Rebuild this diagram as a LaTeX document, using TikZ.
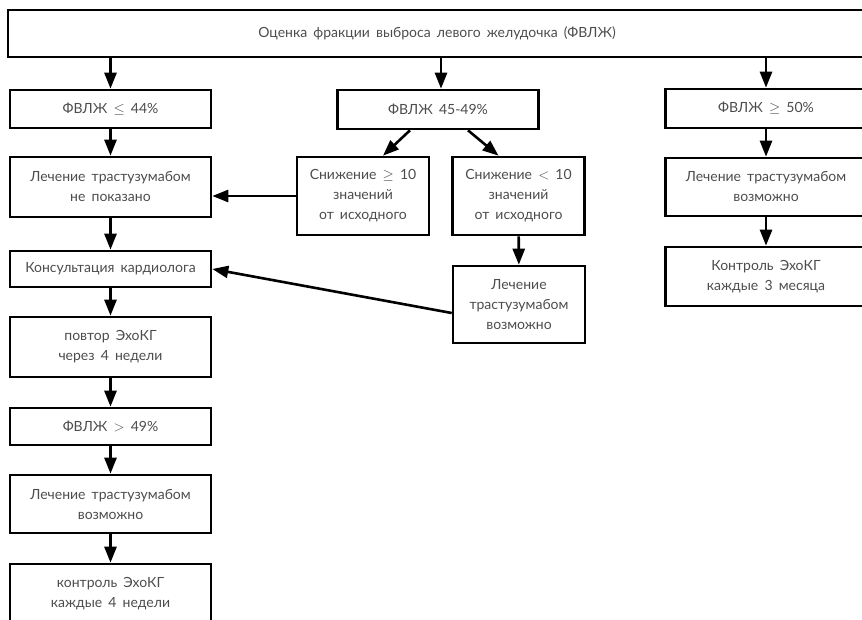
\documentclass[tikz,border=0pt]{standalone}
\usepackage{fontspec}
\setmainfont{Lato}
\usetikzlibrary{arrows.meta}
\newcommand\boxfont{\fontsize{14}{20}\selectfont\spaceskip=0.44em plus 0.1em\relax}
\begin{document}
\begin{tikzpicture}[
      x=1pt,y=-1pt,
      font=\boxfont,
      box/.style={draw=black,line width=2.6pt,align=center,text=black!70,inner sep=0pt},
      wide/.style={box,minimum width=201pt},
      narrow/.style={box,minimum width=132pt},
      flow/.style={line width=2.6pt,draw=black,-{Triangle[length=16pt,width=12pt]}},
      ]
      \useasboundingbox (0,0) rectangle (862,620);
      \node[box,minimum width=858pt,minimum height=47pt] (fvlzh) at (437,33.5)
        {Оценка фракции выброса левого желудочка (ФВЛЖ)};
      \node[wide,minimum height=38pt] (low) at (110.5,109) {ФВЛЖ $\leq$ 44\%};
      \node[wide,minimum height=39pt] (mid) at (438,109.5) {ФВЛЖ 45-49\%};
      \node[wide,minimum height=39pt] (high) at (766,108.5) {ФВЛЖ $\geq$ 50\%};
      \node[wide,minimum height=60pt] (nepok) at (110.5,187) {Лечение трастузумабом\\не показано};
      \node[narrow,minimum height=78pt] (drop) at (363,196) {Снижение $\geq$ 10\\значений\\от исходного};
      \node[narrow,minimum height=78pt] (nodrop) at (518.5,196) {Снижение $<$ 10\\значений\\от исходного};
      \node[wide,minimum height=58pt] (vozmr) at (766,187) {Лечение трастузумабом\\возможно};
      \node[wide,minimum height=36pt] (kons) at (110.5,269) {Консультация кардиолога};
      \node[narrow,minimum height=77pt] (vozmm) at (519,304.5) {Лечение\\трастузумабом\\возможно};
      \node[wide,minimum height=59pt] (kontr3) at (766,276.5) {Контроль ЭхоКГ\\каждые 3 месяца};
      \node[wide,minimum height=60pt] (povtor) at (110.5,347) {повтор ЭхоКГ\\через 4 недели};
      \node[wide,minimum height=37pt] (ok) at (110.5,426.5) {ФВЛЖ $>$ 49\%};
      \node[wide,minimum height=58pt] (vozml) at (110.5,504) {Лечение трастузумабом\\возможно};
      \node[wide,minimum height=60pt] (kontr4) at (110.5,594) {контроль ЭхоКГ\\каждые 4 недели};

      \draw[flow] (fvlzh.south -| low) -- (low);
      \draw[flow] ([xshift=3pt]fvlzh.south -| mid) -- ([xshift=3pt]mid.north);
      \draw[flow] (fvlzh.south -| high) -- (high);
      \draw[flow] ([xshift=-28pt]mid.south) -- ([xshift=20pt]drop.north);
      \draw[flow] ([xshift=30pt]mid.south) -- ([xshift=-20pt]nodrop.north);
      \draw[flow] (drop.west) -- (drop.west -| nepok.east);
      \draw[flow] (nodrop) -- (vozmm);
      \draw[flow] ([yshift=-8.5pt]vozmm.west) -- (kons.east);
      \draw[flow] (low) -- (nepok);
      \draw[flow] (nepok) -- (kons);
      \draw[flow] (kons) -- (povtor);
      \draw[flow] (povtor) -- (ok);
      \draw[flow] (ok) -- (vozml);
      \draw[flow] (vozml) -- (kontr4);
      \draw[flow] (high) -- (vozmr);
      \draw[flow] (vozmr) -- (kontr3);
    \end{tikzpicture}
\end{document}
